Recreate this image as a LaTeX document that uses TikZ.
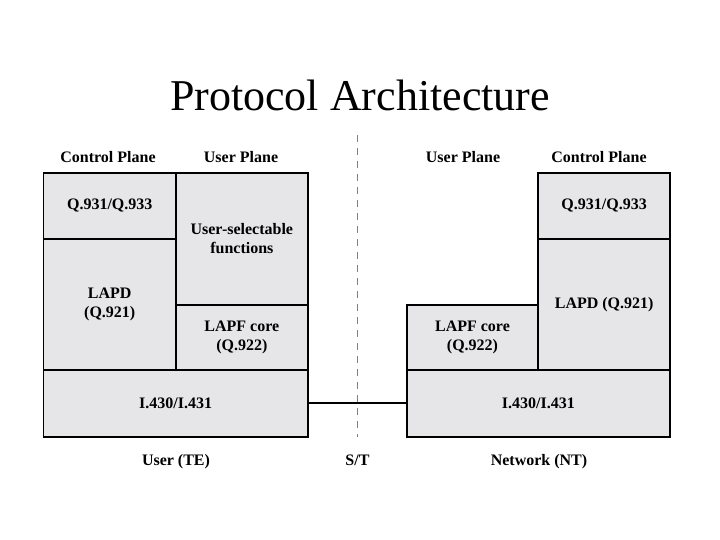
\documentclass[tikz,border=0pt]{standalone}
\usepackage{fontspec}
\setmainfont{Liberation Serif}
\begin{document}
\begin{tikzpicture}[x=1pt,y=-1pt,
  layer/.style={draw=black, line width=1.8pt, fill=boxgray, inner sep=0pt, align=center,
    font=\fontsize{16}{19.5}\selectfont\bfseries},
  lbl/.style={font=\fontsize{16}{19}\selectfont\bfseries, inner sep=0pt, anchor=base},
  stline/.style={draw=black!50, line width=1.6pt, dash pattern=on 7pt off 6pt},
  link/.style={draw=black, line width=1.8pt}]
\definecolor{boxgray}{HTML}{E6E6E8}
\useasboundingbox (0,0) rectangle (720,540);
\node[font=\fontsize{44}{50}\selectfont, anchor=base] (title) at (360,111) {Protocol Architecture};
% left stack
\node[layer, minimum width=132.5pt, minimum height=66pt] (q1) at (109.75,205.7) {Q.931/Q.933};
\node[layer, minimum width=132.5pt, minimum height=131.3pt] (lapd) at (109.75,304.35) {LAPD\\(Q.921)};
\node[layer, minimum width=131.7pt, minimum height=132pt] (usf) at (241.85,238.7) {User-selectable\\functions};
\node[layer, minimum width=131.7pt, minimum height=65.3pt] (lapf) at (241.85,337.35) {LAPF core\\(Q.922)};
\node[layer, minimum width=264.2pt, minimum height=66.7pt] (phy) at (175.6,403.35) {I.430/I.431};
% right stack
\node[layer, minimum width=131.7pt, minimum height=66pt] (rq1) at (604.15,205.7) {Q.931/Q.933};
\node[layer, minimum width=131.7pt, minimum height=131.3pt] (rlapd) at (604.15,304.35) {LAPD (Q.921)};
\node[layer, minimum width=131.6pt, minimum height=65.3pt] (rlapf) at (472.5,337.35) {LAPF core\\(Q.922)};
\node[layer, minimum width=263.3pt, minimum height=66.7pt] (rphy) at (538.35,403.35) {I.430/I.431};
% plane labels
\node[lbl] (cpl) at (108,162.5) {Control Plane};
\node[lbl] (upl) at (241,162.5) {User Plane};
\node[lbl] (upr) at (463,162.5) {User Plane};
\node[lbl] (cpr) at (599,162.5) {Control Plane};
% bottom labels
\node[lbl] (te) at (176,465.5) {User (TE)};
\node[lbl] (st) at (357.5,465.5) {S/T};
\node[lbl] (nt) at (539,465.5) {Network (NT)};
% reference point line
\coordinate (sttop) at (357.5,135);
\coordinate (stbot) at (357.5,437);
\draw[stline] (sttop) -- (stbot);
\draw[link] (phy.east) -- (rphy.west);
\end{tikzpicture}
\end{document}
